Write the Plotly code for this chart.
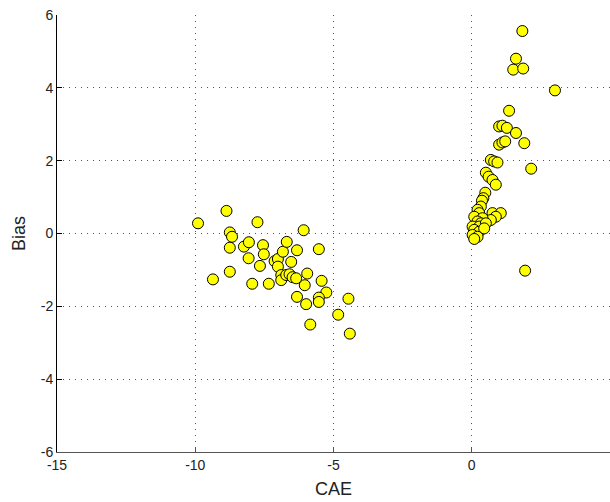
import plotly.graph_objects as go

# CAE / Bias pairs, negative-CAE group
cae_neg = [-9.90, -8.87, -9.36, -8.75, -8.67, -8.75, -8.75, -7.75, -8.24, -8.06,
           -7.55, -8.07, -7.52, -7.66, -7.94, -7.34, -7.13, -7.01, -6.83, -6.69,
           -6.53, -6.32, -6.08, -5.53, -7.01, -6.89, -6.89, -6.71, -6.59, -6.48,
           -6.35, -5.95, -6.04, -5.43, -5.26, -5.53, -5.53, -6.32, -5.99, -4.46,
           -4.83, -5.84, -4.41]
bias_neg = [0.28, 0.62, -1.26, 0.03, -0.09, -0.39, -1.05, 0.31, -0.36, -0.24,
            -0.32, -0.68, -0.57, -0.89, -1.38, -1.38, -0.76, -0.70, -0.50, -0.23,
            -0.78, -0.46, 0.09, -0.43, -0.91, -1.14, -1.28, -1.14, -1.12, -1.20,
            -1.23, -1.10, -1.42, -1.30, -1.62, -1.76, -1.88, -1.74, -1.94, -1.79,
            -2.23, -2.50, -2.75]

# CAE / Bias pairs, positive-CAE group
cae_pos = [1.83, 1.60, 1.50, 1.86, 3.01, 1.35, 0.99, 1.11, 1.27, 1.60,
           1.90, 0.99, 1.11, 1.21, 0.69, 0.81, 0.93, 2.15, 0.51, 0.61,
           0.75, 0.87, 0.49, 0.42, 0.37, 0.33, 0.21, 0.27, 0.75, 1.05,
           0.87, 0.69, 0.09, 0.39, 0.21, 0.33, 0.03, 0.27, 0.51, 0.09,
           0.27, 0.45, 0.03, 0.21, 0.09, 1.93]
bias_pos = [5.56, 4.80, 4.50, 4.53, 3.93, 3.37, 2.94, 2.96, 2.90, 2.76,
            2.48, 2.44, 2.50, 2.53, 2.02, 1.98, 1.95, 1.78, 1.67, 1.56,
            1.47, 1.34, 1.12, 0.97, 0.90, 0.74, 0.65, 0.56, 0.56, 0.56,
            0.46, 0.37, 0.46, 0.42, 0.33, 0.28, 0.19, 0.19, 0.28, 0.10,
            0.05, 0.14, -0.04, -0.09, -0.15, -1.02]

x_ticks = [-15, -10, -5, 0, 5]
y_ticks = [-6, -4, -2, 0, 2, 4, 6]

cae = cae_neg + cae_pos
bias = bias_neg + bias_pos

fig = go.Figure(go.Scatter(
    x=cae, y=bias, mode="markers",
    marker=dict(size=11, color="#ffff00", line=dict(color="black", width=1)),
))

font = "Liberation Sans, Arial, sans-serif"
grid_dash = "1px,5px"

fig.update_layout(
    width=610, height=502,
    margin=dict(l=57, r=0, t=15, b=50),
    paper_bgcolor="white", plot_bgcolor="white",
    showlegend=False,
    font=dict(family=font, size=14, color="#222222"),
)
fig.update_xaxes(
    range=[-15, 5], tickvals=x_ticks, ticktext=[str(v) for v in x_ticks],
    showline=True, linecolor="#555555", linewidth=1, mirror=False,
    ticks="inside", ticklen=5, tickcolor="#555555",
    showgrid=True, gridcolor="#555555", gridwidth=1, griddash=grid_dash,
    zeroline=False,
    title=dict(text="CAE", font=dict(size=18, family=font), standoff=10),
)
fig.update_yaxes(
    range=[-6, 6], tickvals=y_ticks, ticktext=[str(v) for v in y_ticks],
    showline=True, linecolor="black", linewidth=1, mirror=False,
    ticks="inside", ticklen=5, tickcolor="black",
    showgrid=True, gridcolor="#555555", gridwidth=1, griddash=grid_dash,
    zeroline=False,
    title=dict(text="Bias", font=dict(size=18, family=font), standoff=10),
)

fig.write_html("out.html")
